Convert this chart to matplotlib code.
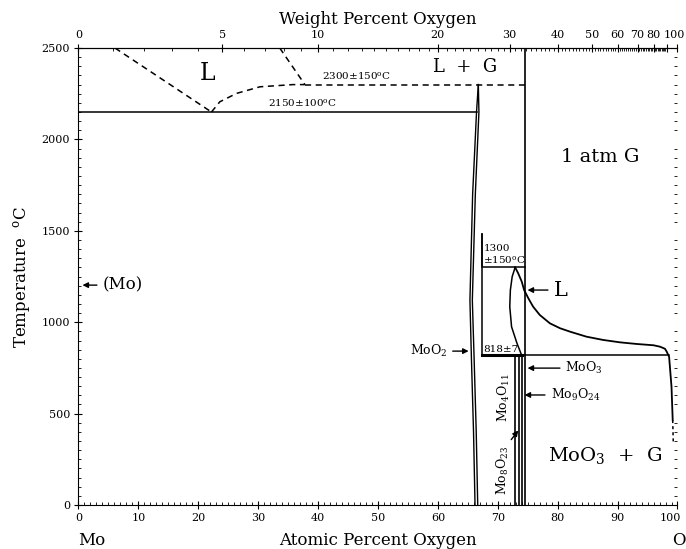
import numpy as np
import matplotlib
matplotlib.use("Agg")
import matplotlib.pyplot as plt
from matplotlib.ticker import MultipleLocator, FixedLocator
from matplotlib.transforms import ScaledTranslation

plt.rcParams['font.family'] = ['DejaVu Serif']
plt.rcParams['mathtext.fontset'] = 'dejavuserif'

# --- data (atomic % O, temperature in C) ---
liq_left_at = [6.1, 22.2]
liq_left_T = [2500, 2150]
liq_rise_at = [22.2, 23.6, 26.4, 30.3, 35.8, 37.8]
liq_rise_T = [2150, 2206, 2252, 2288, 2300, 2300]
liq_right_at = [33.6, 37.8]
liq_right_T = [2500, 2300]
monotectic_at = [37.8, 74.5]
monotectic_T = [2300, 2300]

eutectic_at = [0, 66.5]
eutectic_T = [2150, 2150]

moo2_T = [2300, 2150, 1700, 1120, 800, 400, 0]
moo2_left = [66.75, 66.45, 65.8, 65.35, 65.6, 65.95, 66.2]
moo2_right = [66.75, 66.85, 66.25, 65.75, 66.05, 66.4, 66.65]

box_at = [67.3, 67.3, 74.5]
box_T = [1480, 1300, 1300]
peritectic_at = [67.3, 98.6]
peritectic_T = [818, 818]

lens_left_at = [72.9, 72.4, 72.1, 72.0, 72.3, 73.2, 74.0]
lens_left_T = [1300, 1249, 1176, 1085, 975, 885, 818]
gas_at = [72.9, 73.4, 74.0, 74.4, 75.1, 75.9, 77.0, 78.7, 80.4, 82.1, 84.8, 87.6,
          90.4, 93.2, 96.0, 97.1, 97.9, 98.2, 98.6, 99.0, 99.2]
gas_T = [1300, 1268, 1222, 1176, 1131, 1085, 1040, 994, 967, 948, 921, 903,
         890, 881, 874, 866, 855, 839, 811, 647, 465]
gas_dash_at = [99.2, 99.3]
gas_dash_T = [465, 339]

compounds_at = [72.9, 73.6, 74.0]   # Mo4O11, Mo8O23, Mo9O24 lines
moo3_at = 74.5

wt_ticks = [0, 5, 10, 20, 30, 40, 50, 60, 70, 80, 90, 100]
wt_labels = ['0', '5', '10', '20', '30', '40', '50', '60', '70', '80', '', '100']


def at2wt(a):
    a = np.asarray(a, dtype=float)
    return 100 * 16 * a / (16 * a + 95.95 * (100 - a))


def wt2at(w):
    w = np.asarray(w, dtype=float)
    return 100 * (w / 16) / (w / 16 + (100 - w) / 95.95)


fig = plt.figure(figsize=(6.86, 5.49), dpi=100)
ax = fig.add_axes([0.1144, 0.0801, 0.8732, 0.8324])
ax.set_xlim(0, 100)
ax.set_ylim(0, 2500)

k = dict(color='black', lw=1.1)
dash = dict(color='black', lw=1.1, ls=(0, (4, 3)))

ax.plot(liq_left_at, liq_left_T, **dash)
ax.plot(liq_rise_at, liq_rise_T, **dash)
ax.plot(liq_right_at, liq_right_T, **dash)
ax.plot(monotectic_at, monotectic_T, **dash)
ax.plot(eutectic_at, eutectic_T, **k)

ax.plot(moo2_left, moo2_T, color='black', lw=1.0)
ax.plot(moo2_right, moo2_T, color='black', lw=1.0)

ax.plot(box_at, box_T, **k)
ax.plot([67.3, 67.3], [818, 1480], **k)
ax.plot(peritectic_at, peritectic_T, **k)
ax.plot([67.3, 74.0], [818, 818], color='black', lw=2.2)

ax.plot(lens_left_at, lens_left_T, **k)
ax.plot(gas_at, gas_T, color='black', lw=1.3)
ax.plot(gas_dash_at, gas_dash_T, color='black', lw=1.1, ls=(0, (2, 2)))

for a in compounds_at:
    ax.plot([a, a], [0, 818], color='black', lw=1.2)
ax.plot([moo3_at, moo3_at], [0, 2500], color='black', lw=1.2)

# ---- text ----
ax.text(21.6, 2363, 'L', fontsize=17, ha='center', va='center')
ax.text(64.5, 2396, 'L  +  G', fontsize=13, ha='center', va='center')
ax.text(40.7, 2345, '2300±150$^{\\rm o}$C', fontsize=7.5, ha='left', va='center')
ax.text(31.7, 2200, '2150±100$^{\\rm o}$C', fontsize=7.5, ha='left', va='center')
ax.text(87.1, 1904, '1 atm G', fontsize=14, ha='center', va='center')
ax.text(87.9, 273, 'MoO$_3$  +  G', fontsize=14, ha='center', va='center')
ax.text(67.6, 1310, '1300\n±150$^{\\rm o}$C', fontsize=7.5, ha='left', va='bottom',
        linespacing=1.1)
ax.text(67.6, 826, '818±7', fontsize=7.5, ha='left', va='bottom')

arr = dict(arrowstyle='-|>', color='black', lw=1.0, mutation_scale=8)
ax.annotate('(Mo)', xy=(0.2, 1203), xytext=(4.0, 1203), fontsize=12,
            ha='left', va='center', arrowprops=arr)
ax.annotate('MoO$_2$', xy=(65.6, 842), xytext=(55.3, 842), fontsize=9,
            ha='left', va='center', arrowprops=arr)
ax.annotate('L', xy=(74.5, 1176), xytext=(79.3, 1176), fontsize=15,
            ha='left', va='center', arrowprops=arr)
ax.annotate('MoO$_3$', xy=(74.5, 749), xytext=(81.3, 749), fontsize=9,
            ha='left', va='center', arrowprops=arr)
ax.annotate('Mo$_9$O$_{24}$', xy=(74.0, 602), xytext=(78.8, 602), fontsize=9,
            ha='left', va='center', arrowprops=arr)
ax.annotate('', xy=(73.7, 420), xytext=(71.97, 346), arrowprops=arr)
ax.text(71.1, 585, 'Mo$_4$O$_{11}$', fontsize=9, rotation=90, ha='center', va='center')
ax.text(70.8, 190, 'Mo$_8$O$_{23}$', fontsize=9, rotation=90, ha='center', va='center')

# ---- axes ----
ax.spines['right'].set_visible(False)
ax.xaxis.set_major_locator(MultipleLocator(10))
ax.xaxis.set_minor_locator(MultipleLocator(1))
ax.yaxis.set_major_locator(MultipleLocator(500))
ax.yaxis.set_minor_locator(MultipleLocator(50))
ax.tick_params(which='major', direction='inout', length=6, width=0.8, labelsize=8,
               pad=3)
ax.tick_params(which='minor', direction='in', length=2.5, width=0.6)
ax.tick_params(axis='y', which='both', right=True, labelright=False)
ax.tick_params(axis='y', which='major', right=False)
ax.tick_params(axis='x', which='both', top=False)

ax.set_ylabel('Temperature  $^{\\rm o}$C', fontsize=12, labelpad=6)
ax.text(0.5, -0.077, 'Atomic Percent Oxygen', transform=ax.transAxes, fontsize=12,
        ha='center', va='center')
ax.text(0.0, -0.077, 'Mo', transform=ax.transAxes, fontsize=12, ha='left', va='center')
ax.text(1.003, -0.077, 'O', transform=ax.transAxes, fontsize=12, ha='center', va='center')

sec = ax.secondary_xaxis('top', functions=(at2wt, wt2at))
sec.xaxis.set_major_locator(FixedLocator(wt_ticks))
sec.set_xticklabels(wt_labels)
sec.xaxis.set_minor_locator(FixedLocator(list(range(0, 91))))
sec.tick_params(which='major', direction='inout', length=6, width=0.8, labelsize=8,
                pad=3)
sec.tick_params(which='minor', direction='in', length=2.5, width=0.6)
sec.set_xlabel('Weight Percent Oxygen', fontsize=12, labelpad=4)

# nudge the "100" labels so they stay inside the figure
fig.canvas.draw()
for lbls, pts in ((ax.get_xticklabels(), -5), (sec.get_xticklabels(), -2)):
    shift = ScaledTranslation(pts / 72, 0, fig.dpi_scale_trans)
    for lbl in lbls:
        if lbl.get_text() == '100':
            lbl.set_transform(lbl.get_transform() + shift)

fig.savefig('out.png', dpi=100)
